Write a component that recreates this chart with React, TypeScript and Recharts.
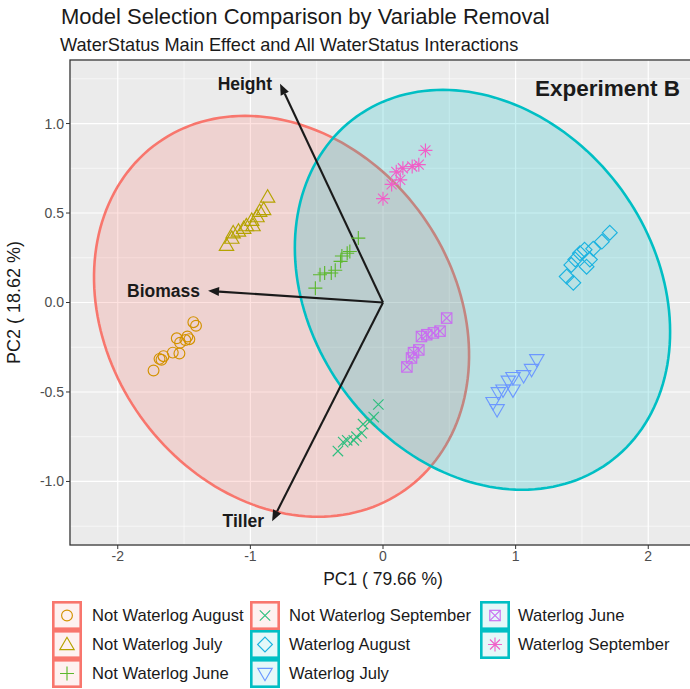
import React from 'react';
import * as RC from 'recharts';

const R: any = RC;
const { ScatterChart, Scatter, XAxis, YAxis, CartesianGrid, Legend, Customized } = R;

// ---------- axes ----------
const X_DOMAIN = [-2.36, 2.36];
const Y_DOMAIN = [-1.355, 1.355];
const X_TICKS = [-2, -1, 0, 1, 2];
const Y_TICKS = [-1, -0.5, 0, 0.5, 1];
const X_MINOR = [-1.5, -0.5, 0.5, 1.5];
const Y_MINOR = [-1.25, -0.75, -0.25, 0.25, 0.75, 1.25];

// ---------- series (PC1, PC2) ----------
const notWaterlogAugust = [
  [-1.43, -0.11], [-1.41, -0.13], [-1.475, -0.19], [-1.49, -0.21], [-1.555, -0.2],
  [-1.46, -0.205], [-1.53, -0.225], [-1.585, -0.28], [-1.535, -0.285], [-1.655, -0.3],
  [-1.685, -0.315], [-1.73, -0.38], [-1.67, -0.32],
];
const notWaterlogJuly = [
  [-0.87, 0.59], [-0.9, 0.52], [-0.93, 0.51], [-0.95, 0.48], [-0.99, 0.46], [-0.98, 0.43],
  [-1.03, 0.43], [-1.05, 0.415], [-1.09, 0.4], [-1.13, 0.39], [-1.14, 0.36], [-1.18, 0.32],
];
const notWaterlogJune = [
  [-0.186, 0.36], [-0.25, 0.285], [-0.27, 0.275], [-0.31, 0.26], [-0.32, 0.23],
  [-0.36, 0.18], [-0.39, 0.165], [-0.44, 0.165], [-0.475, 0.155], [-0.51, 0.08],
];
const notWaterlogSeptember = [
  [-0.035, -0.57], [-0.07, -0.64], [-0.1, -0.665], [-0.15, -0.68], [-0.16, -0.73],
  [-0.2, -0.75], [-0.22, -0.77], [-0.27, -0.77], [-0.3, -0.78], [-0.34, -0.83],
];
const waterlogAugust = [
  [1.71, 0.39], [1.65, 0.34], [1.585, 0.3], [1.52, 0.295], [1.485, 0.275], [1.45, 0.24],
  [1.42, 0.21], [1.385, 0.145], [1.435, 0.11], [1.535, 0.2], [1.56, 0.24],
];
const waterlogJuly = [
  [1.16, -0.32], [1.12, -0.375], [1.06, -0.41], [0.98, -0.42], [0.945, -0.44],
  [0.905, -0.49], [0.98, -0.49], [0.87, -0.505], [0.83, -0.56], [0.86, -0.6],
];
const waterlogJune = [
  [0.48, -0.087], [0.43, -0.16], [0.38, -0.17], [0.33, -0.18], [0.29, -0.19],
  [0.27, -0.265], [0.23, -0.28], [0.215, -0.31], [0.18, -0.36],
];
const waterlogSeptember = [
  [0.32, 0.85], [0.27, 0.77], [0.22, 0.76], [0.15, 0.75], [0.1, 0.73],
  [0.13, 0.685], [0.065, 0.66], [0.0, 0.58],
];

const seriesNames = [
  'Not Waterlog August', 'Not Waterlog July', 'Not Waterlog June', 'Not Waterlog September',
  'Waterlog August', 'Waterlog July', 'Waterlog June', 'Waterlog September',
];
const seriesValues = [
  notWaterlogAugust, notWaterlogJuly, notWaterlogJune, notWaterlogSeptember,
  waterlogAugust, waterlogJuly, waterlogJune, waterlogSeptember,
];
const seriesColors = ['#D39200', '#B5A300', '#5DB82E', '#2DBE7E', '#1AB2E0', '#6C98FF', '#C96EF0', '#F060C8'];
const seriesShapes = ['circle', 'triangle', 'plus', 'cross', 'diamond', 'downTriangle', 'squareCross', 'asterisk'];
const seriesGroup = [0, 0, 0, 0, 1, 1, 1, 1];

// ---------- ellipses (per WaterStatus group) ----------
const ellipseColors = ['#F8766D', '#00BFC4'];
const ellipseCenterX = [-0.765, 0.75];
const ellipseCenterY = [-0.077, 0.071];
const ellipseHalfWidth = [1.387, 1.383];
const ellipseTopShiftX = [-0.275, -0.298];
const ellipseHalfHeight = [1.12, 1.117];

// ---------- loadings ----------
const loadingNames = ['Height', 'Biomass', 'Tiller'];
const loadingX = [-0.776, -1.319, -0.836];
const loadingY = [1.222, 0.065, -1.222];

// legend layout order (columns)
const legendColumns = [[0, 1, 2], [3, 4, 5], [6, 7]];

const FONT = '"Liberation Sans", Arial, Helvetica, sans-serif';
const CHART_W = 700;
const CHART_H = 689;
const MARGIN = { top: 60, right: 4, bottom: 104, left: 10 };
const Y_AXIS_W = 60;
const X_AXIS_H = 40;

function Marker({ shape, cx, cy, color }: any) {
  const sw = 1.15;
  const common = { fill: 'none', stroke: color, strokeWidth: sw };
  switch (shape) {
    case 'circle':
      return <circle cx={cx} cy={cy} r={5.4} {...common} />;
    case 'triangle': {
      const s = 7.2;
      return <polygon points={`${cx},${cy - s} ${cx - s * 1.0},${cy + s * 0.72} ${cx + s * 1.0},${cy + s * 0.72}`} {...common} />;
    }
    case 'downTriangle': {
      const s = 7.2;
      return <polygon points={`${cx},${cy + s} ${cx - s * 1.0},${cy - s * 0.72} ${cx + s * 1.0},${cy - s * 0.72}`} {...common} />;
    }
    case 'plus': {
      const s = 7;
      return <path d={`M${cx - s},${cy}H${cx + s}M${cx},${cy - s}V${cy + s}`} {...common} />;
    }
    case 'cross': {
      const s = 5.2;
      return <path d={`M${cx - s},${cy - s}L${cx + s},${cy + s}M${cx - s},${cy + s}L${cx + s},${cy - s}`} {...common} />;
    }
    case 'diamond': {
      const s = 7.4;
      return <polygon points={`${cx},${cy - s} ${cx + s},${cy} ${cx},${cy + s} ${cx - s},${cy}`} {...common} />;
    }
    case 'squareCross': {
      const s = 5.2;
      return (
        <g {...common}>
          <rect x={cx - s} y={cy - s} width={2 * s} height={2 * s} />
          <path d={`M${cx - s},${cy - s}L${cx + s},${cy + s}M${cx - s},${cy + s}L${cx + s},${cy - s}`} />
        </g>
      );
    }
    case 'asterisk': {
      const s = 7;
      const d = 5;
      return (
        <path
          d={`M${cx - s},${cy}H${cx + s}M${cx},${cy - s}V${cy + s}M${cx - d},${cy - d}L${cx + d},${cy + d}M${cx - d},${cy + d}L${cx + d},${cy - d}`}
          {...common}
        />
      );
    }
    default:
      return null;
  }
}

function usePlotGeometry() {
  const area = R.usePlotArea ? R.usePlotArea() : null;
  const left = area ? area.x : MARGIN.left + Y_AXIS_W;
  const top = area ? area.y : MARGIN.top;
  const width = area ? area.width : CHART_W - MARGIN.left - Y_AXIS_W - MARGIN.right;
  const height = area ? area.height : CHART_H - MARGIN.top - MARGIN.bottom - X_AXIS_H;
  const sx = (v: number) => left + ((v - X_DOMAIN[0]) / (X_DOMAIN[1] - X_DOMAIN[0])) * width;
  const sy = (v: number) => top + ((Y_DOMAIN[1] - v) / (Y_DOMAIN[1] - Y_DOMAIN[0])) * height;
  return { left, top, width, height, sx, sy };
}

function UnderLayer() {
  const { left, top, width, height, sx, sy } = usePlotGeometry();
  const ellipses = ellipseColors.map((col, i) => {
    const pts: string[] = [];
    const n = 180;
    for (let k = 0; k <= n; k++) {
      const t = (k / n) * Math.PI * 2;
      const x = ellipseCenterX[i] + ellipseHalfWidth[i] * Math.cos(t) + ellipseTopShiftX[i] * Math.sin(t);
      const y = ellipseCenterY[i] + ellipseHalfHeight[i] * Math.sin(t);
      pts.push(`${sx(x).toFixed(2)},${sy(y).toFixed(2)}`);
    }
    return (
      <path key={i} d={`M${pts.join('L')}Z`} fill={col} fillOpacity={0.21} stroke={col} strokeWidth={2.6} />
    );
  });
  return (
    <g>
      {X_MINOR.map((v) => (
        <line key={'xm' + v} x1={sx(v)} x2={sx(v)} y1={top} y2={top + height} stroke="#FFFFFF" strokeWidth={0.6} />
      ))}
      {Y_MINOR.map((v) => (
        <line key={'ym' + v} x1={left} x2={left + width} y1={sy(v)} y2={sy(v)} stroke="#FFFFFF" strokeWidth={0.6} />
      ))}
      {ellipses}
      {loadingNames.map((name, i) => {
        const x0 = sx(0);
        const y0 = sy(0);
        const x1 = sx(loadingX[i]);
        const y1 = sy(loadingY[i]);
        const dx = x1 - x0;
        const dy = y1 - y0;
        const len = Math.sqrt(dx * dx + dy * dy);
        const ux = dx / len;
        const uy = dy / len;
        const hl = 11;
        const hw = 4.5;
        const bx = x1 - ux * hl;
        const by = y1 - uy * hl;
        return (
          <g key={name}>
            <line x1={x0} y1={y0} x2={bx} y2={by} stroke="#1A1A1A" strokeWidth={2.1} />
            <polygon
              points={`${x1},${y1} ${bx - uy * hw},${by + ux * hw} ${bx + uy * hw},${by - ux * hw}`}
              fill="#1A1A1A"
            />
            <text
              x={x1 - 8}
              y={y1 + 6}
              textAnchor="end"
              fontFamily={FONT}
              fontWeight="bold"
              fontSize={17.5}
              fill="#1A1A1A"
            >
              {name}
            </text>
          </g>
        );
      })}
    </g>
  );
}

function OverLayer() {
  const { left, top, width, height } = usePlotGeometry();
  return (
    <g>
      <rect x={left} y={top} width={width} height={height} fill="none" stroke="#333333" strokeWidth={1.3} />
      <text x={left + width - 16} y={top + 36} textAnchor="end" fontFamily={FONT} fontWeight="bold" fontSize={22.5} fill="#1A1A1A">
        Experiment B
      </text>
    </g>
  );
}

function LegendContent() {
  const colX = [52, 250, 480];
  const textX = [40, 39, 38];
  const boxW = 30;
  const boxH = 29;
  return (
    <div style={{ position: 'relative', width: 690, height: 88 }}>
      {legendColumns.map((col, ci) =>
        col.map((si, ri) => {
          const g = seriesGroup[si];
          const ec = ellipseColors[g];
          return (
            <div key={si} style={{ position: 'absolute', left: colX[ci], top: ri * boxH, height: boxH, display: 'flex', alignItems: 'center' }}>
              <svg width={boxW} height={boxH} style={{ display: 'block' }}>
                <rect x={1.3} y={1.3} width={boxW - 2.6} height={boxH - 2.6} fill={ec} fillOpacity={0.1} stroke={ec} strokeWidth={2.6} />
                <Marker shape={seriesShapes[si]} cx={boxW / 2} cy={boxH / 2} color={seriesColors[si]} />
              </svg>
              <span style={{ position: 'absolute', left: textX[ci], whiteSpace: 'nowrap', fontFamily: FONT, fontSize: 16.6, color: '#1A1A1A' }}>
                {seriesNames[si]}
              </span>
            </div>
          );
        })
      )}
    </div>
  );
}

export default function App() {
  const seriesData = seriesValues.map((arr) => arr.map(([x, y]) => ({ x, y })));
  return (
    <div style={{ position: 'absolute', left: 0, top: 0, width: 690, height: 689, overflow: 'hidden', background: '#FFFFFF' }}>
      <div style={{ position: 'absolute', left: 61, top: 4, fontFamily: FONT, fontSize: 22, color: '#1A1A1A', whiteSpace: 'nowrap' }}>
        Model Selection Comparison by Variable Removal
      </div>
      <div style={{ position: 'absolute', left: 60, top: 35, fontFamily: FONT, fontSize: 18.2, color: '#1A1A1A', whiteSpace: 'nowrap' }}>
        WaterStatus Main Effect and All WaterStatus Interactions
      </div>
      <ScatterChart width={CHART_W} height={CHART_H} margin={MARGIN} style={{ fontFamily: FONT }}>
        <CartesianGrid fill="#EBEBEB" fillOpacity={1} stroke="#FFFFFF" strokeWidth={1.2} />
        <XAxis
          type="number"
          dataKey="x"
          domain={X_DOMAIN}
          allowDataOverflow
          ticks={X_TICKS}
          height={X_AXIS_H}
          axisLine={false}
          tickLine={{ stroke: '#333333' }}
          tickSize={4}
          tick={{ fill: '#4D4D4D', fontSize: 14 }}
          tickFormatter={(v: number) => String(v)}
          label={{ value: 'PC1 ( 79.66 %)', position: 'insideBottom', offset: 0, fill: '#1A1A1A', fontSize: 17.5 }}
        />
        <YAxis
          type="number"
          dataKey="y"
          domain={Y_DOMAIN}
          allowDataOverflow
          ticks={Y_TICKS}
          width={Y_AXIS_W}
          axisLine={false}
          tickLine={{ stroke: '#333333' }}
          tickSize={4}
          tick={{ fill: '#4D4D4D', fontSize: 14 }}
          tickFormatter={(v: number) => v.toFixed(1)}
          label={{ value: 'PC2 ( 18.62 %)', angle: -90, position: 'insideLeft', offset: 4, fill: '#1A1A1A', fontSize: 18, style: { textAnchor: 'middle' } }}
        />
        <Customized component={<UnderLayer />} />
        {seriesNames.map((name, i) => (
          <Scatter
            key={name}
            name={name}
            data={seriesData[i]}
            fill={seriesColors[i]}
            isAnimationActive={false}
            shape={(p: any) => <Marker shape={seriesShapes[i]} cx={p.cx} cy={p.cy} color={seriesColors[i]} />}
          />
        ))}
        <Customized component={<OverLayer />} />
        <Legend
          layout="horizontal"
          verticalAlign="middle"
          align="center"
          wrapperStyle={{ position: 'absolute', left: 0, top: 601, width: 690 }}
          content={() => <LegendContent />}
        />
      </ScatterChart>
    </div>
  );
}
